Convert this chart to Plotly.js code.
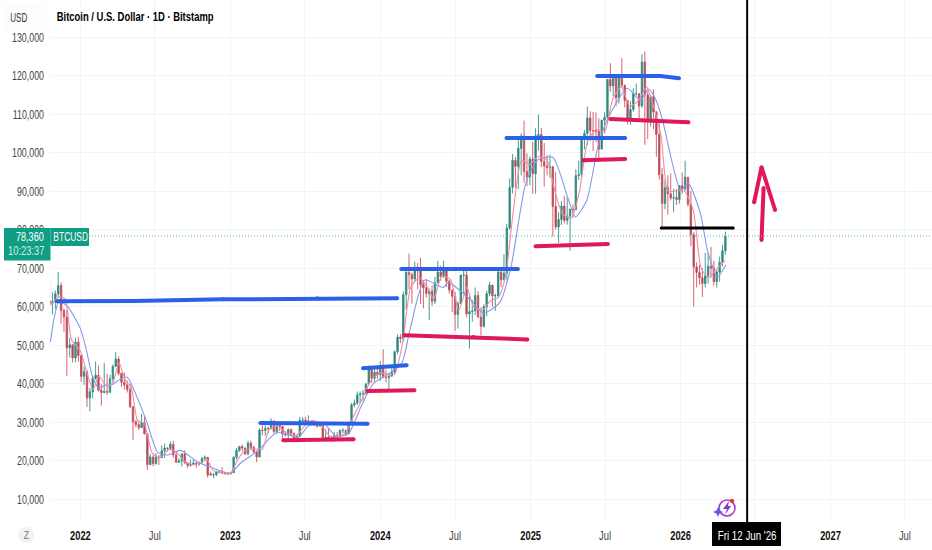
<!DOCTYPE html>
<html><head><meta charset="utf-8">
<script src="https://cdn.plot.ly/plotly-3.0.1.min.js"></script>
<style>html,body{margin:0;padding:0;background:#fff}#c{width:932px;height:550px}</style>
</head><body><div id="c"></div>
<script>
// weekly candles, in thousands of USD: date, open, high, low, close
const candles = `2021-10-18 61.5 67.0 59.5 60.9
2021-10-25 60.9 63.7 58.0 61.3
2021-11-01 61.3 64.2 59.4 63.3
2021-11-08 63.3 69.0 62.3 65.5
2021-11-15 65.5 66.3 55.6 59.0
2021-11-22 59.0 59.5 53.5 57.3
2021-11-29 57.3 59.2 42.0 49.3
2021-12-06 49.3 51.9 46.8 50.1
2021-12-13 50.1 50.2 45.5 46.7
2021-12-20 46.7 51.8 45.6 50.8
2021-12-27 50.8 52.1 45.7 47.3
2022-01-03 47.3 47.5 40.5 41.9
2022-01-10 41.9 44.4 39.7 43.1
2022-01-17 43.1 43.5 34.0 36.3
2022-01-24 36.3 38.9 32.9 37.9
2022-01-31 37.9 42.0 36.2 41.4
2022-02-07 41.4 45.8 41.0 42.2
2022-02-14 42.2 44.7 38.0 38.3
2022-02-21 38.3 40.0 34.3 37.7
2022-02-28 37.7 45.4 37.5 38.0
2022-03-07 38.0 42.6 37.1 37.8
2022-03-14 37.8 42.3 37.6 41.3
2022-03-21 41.3 45.0 40.5 44.5
2022-03-28 44.5 48.2 44.4 46.4
2022-04-04 46.4 47.1 42.1 42.7
2022-04-11 42.7 42.9 39.2 40.4
2022-04-18 40.4 42.9 38.5 39.7
2022-04-25 39.7 40.8 37.7 38.5
2022-05-02 38.5 40.0 33.7 34.0
2022-05-09 34.0 34.2 25.4 30.1
2022-05-16 30.1 30.6 28.7 29.4
2022-05-23 29.4 30.2 28.0 28.6
2022-05-30 28.6 32.2 28.6 29.9
2022-06-06 29.9 31.6 26.8 27.0
2022-06-13 27.0 27.0 17.6 19.0
2022-06-20 19.0 21.8 18.9 21.0
2022-06-27 21.0 21.5 18.6 19.3
2022-07-04 19.3 22.0 19.0 20.9
2022-07-11 20.9 21.5 18.9 20.8
2022-07-18 20.8 24.0 20.7 22.6
2022-07-25 22.6 24.5 20.7 23.3
2022-08-01 23.3 23.5 22.4 23.2
2022-08-08 23.2 25.0 22.7 24.3
2022-08-15 24.3 25.2 20.8 21.5
2022-08-22 21.5 22.0 19.5 19.6
2022-08-29 19.6 20.6 19.5 20.0
2022-09-05 20.0 21.8 18.5 21.8
2022-09-12 21.8 22.7 19.3 19.4
2022-09-19 19.4 19.7 18.1 18.8
2022-09-26 18.8 20.3 18.5 19.0
2022-10-03 19.0 20.4 19.0 19.4
2022-10-10 19.4 19.9 18.2 19.2
2022-10-17 19.2 19.7 18.7 19.6
2022-10-24 19.6 21.0 19.3 20.6
2022-10-31 20.6 21.4 20.1 20.9
2022-11-07 20.9 21.0 15.6 16.3
2022-11-14 16.6 17.2 16.2 16.3
2022-11-21 16.3 16.8 15.5 16.4
2022-11-28 16.4 17.4 16.0 17.1
2022-12-05 17.1 17.4 16.7 17.1
2022-12-12 17.1 18.4 16.6 16.8
2022-12-19 16.8 17.0 16.3 16.8
2022-12-26 16.8 16.9 16.3 16.6
2023-01-02 16.6 17.0 16.5 16.9
2023-01-09 16.9 21.2 16.9 20.9
2023-01-16 20.9 23.3 20.4 22.7
2023-01-23 22.7 23.8 22.3 23.7
2023-01-30 23.7 24.2 22.5 23.3
2023-02-06 23.3 23.4 21.4 21.8
2023-02-13 21.8 25.2 21.4 24.6
2023-02-20 24.6 25.2 22.8 23.5
2023-02-27 23.5 23.9 21.9 22.3
2023-03-06 22.3 22.6 19.6 21.0
2023-03-13 21.0 28.4 20.9 28.0
2023-03-20 28.0 29.2 26.6 27.9
2023-03-27 27.9 29.2 26.5 28.4
2023-04-03 28.4 28.9 27.2 28.3
2023-04-10 28.3 31.0 28.2 30.3
2023-04-17 30.3 30.5 27.1 27.6
2023-04-24 27.6 30.0 26.9 29.2
2023-05-01 29.2 29.7 27.7 28.9
2023-05-08 28.9 29.1 25.8 26.9
2023-05-15 26.9 27.7 26.3 26.7
2023-05-22 26.7 28.4 25.9 28.1
2023-05-29 28.1 28.4 26.5 27.1
2023-06-05 27.1 27.4 25.4 25.8
2023-06-12 25.8 26.8 24.8 26.3
2023-06-19 26.3 31.4 26.3 30.5
2023-06-26 30.5 31.3 29.5 30.6
2023-07-03 30.6 31.4 29.9 30.2
2023-07-10 30.2 31.8 30.0 30.3
2023-07-17 30.3 30.4 29.5 30.1
2023-07-24 30.1 30.3 29.0 29.3
2023-07-31 29.3 30.0 28.6 29.0
2023-08-07 29.0 30.2 28.9 29.3
2023-08-14 29.3 29.7 25.3 26.0
2023-08-21 26.0 28.2 25.4 26.1
2023-08-28 26.1 28.2 25.7 25.9
2023-09-04 25.9 26.4 24.9 25.9
2023-09-11 25.9 27.5 25.0 26.5
2023-09-18 26.5 27.5 26.0 26.3
2023-09-25 26.3 28.1 26.0 27.9
2023-10-02 27.9 28.5 27.2 27.9
2023-10-09 27.9 28.0 26.5 27.0
2023-10-16 27.0 30.2 26.9 29.9
2023-10-23 29.9 35.0 29.9 34.5
2023-10-30 34.5 35.9 33.9 35.0
2023-11-06 35.0 38.0 34.5 37.1
2023-11-13 37.1 38.0 35.0 37.4
2023-11-20 37.4 38.4 35.6 37.5
2023-11-27 37.5 40.2 37.1 39.9
2023-12-04 39.9 44.7 39.9 44.0
2023-12-11 44.0 44.0 40.2 41.4
2023-12-18 41.4 44.3 40.5 43.0
2023-12-25 43.0 43.8 41.3 42.3
2024-01-01 42.3 45.9 40.7 43.9
2024-01-08 43.9 49.0 41.5 41.7
2024-01-15 41.7 43.6 40.3 41.6
2024-01-22 41.6 42.9 38.5 42.0
2024-01-29 42.0 44.0 41.8 43.0
2024-02-05 43.0 48.6 42.3 48.3
2024-02-12 48.3 52.8 47.7 52.1
2024-02-19 52.1 52.9 50.5 51.7
2024-02-26 51.7 64.0 50.9 63.1
2024-03-04 63.1 70.1 59.2 68.9
2024-03-11 68.9 73.8 64.5 68.3
2024-03-18 68.3 68.9 60.8 67.2
2024-03-25 67.2 71.7 66.4 69.6
2024-04-01 69.6 71.3 64.5 69.3
2024-04-08 69.3 72.7 60.7 65.7
2024-04-15 65.7 66.9 59.6 64.9
2024-04-22 64.9 67.2 62.4 63.4
2024-04-29 63.4 64.7 56.5 64.0
2024-05-06 64.0 65.5 60.2 61.4
2024-05-13 61.4 67.7 60.7 66.2
2024-05-20 66.2 71.9 66.1 69.0
2024-05-27 69.0 70.6 66.7 67.7
2024-06-03 67.7 71.9 67.6 69.6
2024-06-10 69.6 70.2 65.1 66.6
2024-06-17 66.6 66.9 63.4 64.3
2024-06-24 64.3 64.4 58.6 62.7
2024-07-01 62.7 63.8 53.7 58.0
2024-07-08 58.0 61.4 54.3 60.8
2024-07-15 60.8 68.3 60.7 68.2
2024-07-22 68.2 69.4 63.5 68.2
2024-07-29 68.2 70.0 57.2 58.1
2024-08-05 58.1 62.7 49.1 58.7
2024-08-12 58.7 61.8 56.1 58.9
2024-08-19 58.9 65.0 57.8 62.9
2024-08-26 62.9 64.0 57.2 57.3
2024-09-02 57.3 59.8 52.6 54.9
2024-09-09 54.9 60.6 54.6 60.0
2024-09-16 60.0 64.1 57.5 63.4
2024-09-23 63.4 66.5 62.7 65.6
2024-09-30 65.6 65.6 60.0 62.8
2024-10-07 62.8 63.4 58.9 62.9
2024-10-14 62.9 69.4 62.5 69.0
2024-10-21 69.0 69.5 65.1 67.0
2024-10-28 67.0 73.6 66.8 68.7
2024-11-04 68.7 81.5 66.8 80.4
2024-11-11 80.4 93.3 79.9 91.0
2024-11-18 91.0 99.6 89.4 98.0
2024-11-25 98.0 98.9 90.8 96.4
2024-12-02 96.4 104.0 90.5 101.1
2024-12-09 101.1 105.0 94.1 104.3
2024-12-16 104.3 108.3 92.2 95.1
2024-12-23 95.1 99.8 91.3 93.7
2024-12-30 93.7 99.0 91.5 98.3
2025-01-06 98.3 102.7 89.3 94.5
2025-01-13 94.5 106.3 89.3 104.4
2025-01-20 104.4 109.9 100.5 104.7
2025-01-27 104.7 106.4 96.2 97.7
2025-02-03 97.7 102.5 91.2 96.5
2025-02-10 96.5 99.4 94.1 96.1
2025-02-17 96.1 99.5 93.4 96.3
2025-02-24 96.3 96.5 78.2 86.0
2025-03-03 86.0 95.0 80.0 80.7
2025-03-10 80.7 84.5 76.6 82.6
2025-03-17 82.6 87.4 81.2 86.1
2025-03-24 86.1 88.8 81.6 82.4
2025-03-31 82.4 88.5 81.3 83.5
2025-04-07 83.5 83.6 74.5 85.3
2025-04-14 85.3 86.5 83.1 85.2
2025-04-21 85.2 95.7 85.0 94.0
2025-04-28 94.0 97.9 92.9 94.3
2025-05-05 94.3 104.3 93.4 104.0
2025-05-12 104.0 105.8 100.8 105.0
2025-05-19 105.0 112.0 102.0 109.0
2025-05-26 109.0 110.7 103.0 105.7
2025-06-02 105.7 110.5 100.4 105.7
2025-06-09 105.7 110.4 102.7 105.5
2025-06-16 105.5 108.9 98.2 100.9
2025-06-23 100.9 108.5 100.8 108.4
2025-06-30 108.4 110.5 105.0 109.2
2025-07-07 109.2 119.0 107.5 119.0
2025-07-14 119.0 123.2 115.8 117.3
2025-07-21 117.3 120.2 114.7 119.4
2025-07-28 119.4 119.8 112.0 114.2
2025-08-04 114.2 119.3 112.7 119.3
2025-08-11 119.3 124.5 116.8 117.5
2025-08-18 117.5 117.6 111.7 113.5
2025-08-25 113.5 113.5 107.3 108.2
2025-09-01 108.2 113.4 107.2 111.2
2025-09-08 111.2 116.7 110.6 115.3
2025-09-15 115.3 117.9 114.8 115.3
2025-09-22 115.3 115.4 108.6 112.1
2025-09-29 112.1 125.5 111.6 123.5
2025-10-06 123.5 126.2 102.0 115.0
2025-10-13 115.0 115.9 103.5 108.6
2025-10-20 108.6 115.0 106.7 114.5
2025-10-27 114.5 116.4 106.1 110.5
2025-11-03 110.5 110.8 98.9 104.7
2025-11-10 104.7 107.5 93.0 94.3
2025-11-17 94.3 96.0 80.6 86.8
2025-11-24 86.8 93.0 85.3 90.9
2025-12-01 90.9 94.1 83.9 89.3
2025-12-08 89.3 94.6 87.6 88.2
2025-12-15 88.2 90.6 84.5 88.3
2025-12-22 88.3 90.5 86.4 87.8
2025-12-29 87.8 91.6 86.7 91.4
2026-01-05 91.4 94.8 89.3 90.6
2026-01-12 90.6 97.9 90.0 93.6
2026-01-19 93.6 93.7 86.0 86.6
2026-01-26 86.6 90.0 75.7 78.7
2026-02-02 78.7 79.3 60.0 70.3
2026-02-09 70.3 71.5 65.0 68.9
2026-02-16 68.9 70.9 65.7 67.5
2026-02-23 67.5 70.0 62.5 66.0
2026-03-02 66.0 74.0 65.0 68.0
2026-03-09 68.0 74.0 66.0 70.5
2026-03-16 70.5 75.5 67.5 70.0
2026-03-23 70.0 72.0 65.5 66.5
2026-03-30 66.5 69.5 65.0 69.0
2026-04-06 69.0 73.0 66.5 71.5
2026-04-13 71.5 76.0 70.5 74.5
2026-04-20 74.5 79.5 73.5 78.36`;
const rows = candles.split('\n').map(r => r.split(' '));
const dates = rows.map(r => r[0]);
const opens = rows.map(r => +r[1] * 1000);
const highs = rows.map(r => +r[2] * 1000);
const lows = rows.map(r => +r[3] * 1000);
const closes = rows.map(r => +r[4] * 1000);

const fastMA = [['2021-10-20',60500],['2021-11-10',62500],['2021-11-25',62000],['2021-12-10',51500],['2022-01-01',48500],['2022-01-15',43500],['2022-02-01',38500],['2022-02-15',42000],['2022-03-05',39500],['2022-03-20',40000],['2022-04-05',45500],['2022-04-20',41000],['2022-05-05',39000],['2022-05-20',30500],['2022-06-05',29800],['2022-06-25',22000],['2022-07-15',20800],['2022-08-05',23000],['2022-08-25',22000],['2022-09-10',20000],['2022-09-30',19000],['2022-10-20',19400],['2022-11-05',20300],['2022-11-20',17500],['2022-12-10',17000],['2023-01-01',16700],['2023-01-20',20500],['2023-02-10',23000],['2023-03-05',23000],['2023-03-20',23000],['2023-04-05',28000],['2023-04-25',29000],['2023-05-15',27500],['2023-06-10',26500],['2023-06-30',29000],['2023-07-20',30500],['2023-08-10',29300],['2023-08-30',26500],['2023-09-20',26200],['2023-10-10',27500],['2023-10-30',32000],['2023-11-20',36500],['2023-12-10',41000],['2024-01-01',42800],['2024-01-20',42500],['2024-02-05',42500],['2024-02-25',51000],['2024-03-15',65000],['2024-04-05',67500],['2024-04-25',65000],['2024-05-10',62000],['2024-05-30',68000],['2024-06-20',67000],['2024-07-10',59000],['2024-07-30',65000],['2024-08-15',60000],['2024-09-05',59000],['2024-09-25',61500],['2024-10-15',62500],['2024-11-01',68000],['2024-11-20',85000],['2024-12-10',98000],['2024-12-30',97000],['2025-01-20',99000],['2025-02-10',98000],['2025-03-01',90000],['2025-03-20',84000],['2025-04-10',83000],['2025-04-30',90000],['2025-05-20',103000],['2025-06-10',106000],['2025-06-30',105500],['2025-07-20',114000],['2025-08-10',117000],['2025-08-30',112000],['2025-09-20',113500],['2025-10-10',117000],['2025-10-30',111000],['2025-11-15',104000],['2025-12-01',90000],['2025-12-20',90000],['2026-01-10',90000],['2026-02-01',85000],['2026-02-20',70000],['2026-03-10',67500],['2026-04-01',70000],['2026-04-20',72000]];
const slowMA = [['2021-10-20',50800],['2021-10-29',57000],['2021-11-10',61500],['2021-12-01',60000],['2022-01-01',54300],['2022-01-15',49000],['2022-01-30',42000],['2022-02-15',38800],['2022-03-01',39500],['2022-03-20',39800],['2022-04-05',41000],['2022-04-25',41700],['2022-05-20',36200],['2022-06-12',30000],['2022-07-08',22200],['2022-08-01',21500],['2022-09-01',22700],['2022-10-15',19600],['2022-11-15',18300],['2023-01-01',16800],['2023-01-25',19300],['2023-03-10',22700],['2023-04-25',27400],['2023-06-15',26100],['2023-07-10',29000],['2023-08-15',29800],['2023-09-15',26400],['2023-10-15',27000],['2023-11-15',34000],['2023-12-15',40000],['2024-01-20',42500],['2024-02-22',45300],['2024-03-13',53900],['2024-04-18',66900],['2024-06-02',65000],['2024-06-15',66300],['2024-08-08',61700],['2024-09-08',58300],['2024-10-18',61100],['2024-11-14',70200],['2024-12-20',92000],['2025-01-17',98000],['2025-02-24',98800],['2025-04-01',88400],['2025-04-20',83300],['2025-05-18',87700],['2025-06-12',100700],['2025-07-06',108400],['2025-08-24',116700],['2025-09-25',113600],['2025-10-15',116500],['2025-11-01',113900],['2025-11-18',108400],['2025-12-12',97200],['2026-01-01',90200],['2026-01-20',92000],['2026-02-18',84300],['2026-03-09',73900],['2026-04-01',67700],['2026-04-21',70800]];

// hand-drawn overlay strokes
const blueStrokes = [
  [['2021-11-05',61400],['2022-05-10',61500],['2022-12-15',61900],['2023-08-01',62200],['2024-02-11',62200]],
  [['2023-03-15',29800],['2023-12-01',29600]],
  [['2023-11-20',44000],['2024-03-05',44800]],
  [['2024-02-21',69800],['2024-12-01',69800]],
  [['2024-11-03',103800],['2025-08-19',103800]],
  [['2025-06-12',119900],['2025-11-13',119900],['2025-12-28',119300]]
];
const redStrokes = [
  [['2023-05-10',25300],['2023-10-28',25600]],
  [['2023-12-01',38100],['2024-03-24',38300]],
  [['2024-02-28',52600],['2024-08-15',52100],['2024-12-24',51500]],
  [['2025-01-13',75700],['2025-07-08',76300]],
  [['2025-05-09',98000],['2025-08-19',98300]],
  [['2025-07-14',108700],['2026-01-20',107900]],
  [['2026-07-17',77300],['2026-07-22',90800]],
  [['2026-06-29',87100],['2026-07-17',96200],['2026-08-19',85100]]
];
const blackStrokes = [[['2025-11-15',80400],['2026-05-09',80400]]];
const priceTicks = [10000,20000,30000,40000,50000,60000,70000,80000,90000,100000,110000,120000,130000];
const timeTicks = ['2022-01-01','2022-07-01','2023-01-01','2023-07-01','2024-01-01','2024-07-01','2025-01-01','2025-07-01','2026-01-01','2026-07-01','2027-01-01','2027-07-01'];
const timeLabels = ['2022','Jul','2023','Jul','2024','Jul','2025','Jul','2026','','2027','Jul'];
const lastPrice = 78360;
const markerDate = '2026-06-12';

const W = 932, H = 550, L = 50, B = 27, PH = H - B, PW = W - L;
const FONT = '"Liberation Sans",Arial,sans-serif';
const px = x => (x - L) / PW;
const py = y => 1 - y / PH;
const stroke = (pts, color, w) => ({
  type:'scatter', mode:'lines+markers', x:pts.map(p => p[0]), y:pts.map(p => p[1]),
  line:{color, width:w}, marker:{color, size:w}, hoverinfo:'skip', showlegend:false
});
const ma = (pts, color) => ({
  type:'scatter', mode:'lines', x:pts.map(p => p[0]), y:pts.map(p => p[1]),
  line:{color, width:1.1, shape:'spline', smoothing:0.6}, hoverinfo:'skip', showlegend:false
});
const traces = [
  {type:'candlestick', x:dates, open:opens, high:highs, low:lows, close:closes, whiskerwidth:0, width:4.2*86400000,
   increasing:{line:{color:'#2f9384', width:0.9}, fillcolor:'#44756c'},
   decreasing:{line:{color:'#d0515f', width:0.9}, fillcolor:'#7e4c55'}, showlegend:false},
  ma(slowMA, '#8498ee'),
  ma(fastMA, '#ee8fa5'),
  ...blueStrokes.map(s => stroke(s, '#2962e8', 4)),
  ...redStrokes.map(s => stroke(s, '#e0195a', 4)),
  ...blackStrokes.map(s => stroke(s, '#000000', 3))
];
const rect = (x0,y0,x1,y1,fill) => ({type:'rect', xref:'paper', yref:'paper', x0:px(x0), x1:px(x1), y0:py(y0), y1:py(y1), fillcolor:fill, line:{width:0}, layer:'above'});
const circ = (cx,cy,r,fill,lc,lw) => ({type:'circle', xref:'paper', yref:'paper', x0:px(cx-r), x1:px(cx+r), y0:py(cy+r), y1:py(cy-r), fillcolor:fill, line:{color:lc, width:lw}, layer:'above'});
const label = (x,y,text,size,color,weight) => ({xref:'paper', yref:'paper', x:px(x), y:py(y), text, showarrow:false, xanchor:'center', yanchor:'middle', font:{family:FONT, size, color, weight:weight||400}, borderpad:0});
const layout = {
  width:W, height:H, margin:{l:L, r:0, t:0, b:B, pad:0}, paper_bgcolor:'#fff', plot_bgcolor:'#fff', showlegend:false,
  font:{family:FONT},
  xaxis:{type:'date', range:['2021-10-19','2027-09-05'], tickmode:'array', tickvals:timeTicks,
    ticktext:timeLabels.map(t => /^\d/.test(t) ? `<b style="color:#111">${t}</b>` : t),
    tickfont:{family:FONT, size:13, color:'#444'}, ticklen:0, showline:false, zeroline:false,
    gridcolor:'#f4f4f4', gridwidth:1, rangeslider:{visible:false}, ticklabelstandoff:3},
  yaxis:{range:[3848,139604], tickmode:'array', tickvals:priceTicks, tickformat:',',
    tickfont:{family:FONT, size:13, color:'#444'}, ticklen:0, showline:false, zeroline:false,
    gridcolor:'#f4f4f4', gridwidth:1, ticklabelstandoff:5},
  shapes:[
    {type:'line', xref:'paper', yref:'y', x0:0, x1:1, y0:lastPrice, y1:lastPrice, line:{color:'#4fb8a4', width:1, dash:'1px,2px'}},
    {type:'line', xref:'x', yref:'paper', x0:markerDate, x1:markerDate, y0:0, y1:1, line:{color:'#000', width:2}, layer:'above'},
    rect(0,0,50,32,'#ffffff'),
    rect(4,3,46,31,'#fdfdfd'),
    rect(4,228,50.5,260.5,'#0f9d83'),
    rect(50.5,228,89,246,'#0f9d83'),
    rect(712,522,781,546,'#000000'),
    circ(26,535,8,'#f2f2f2','#f2f2f2',0),
    circ(727,508,8,'rgba(0,0,0,0)','#a63fc4',1.6),
    {type:'path', xref:'paper', yref:'paper', layer:'above', fillcolor:'#8a35c8', line:{width:0},
     path:`M${px(729)},${py(501)} L${px(723)},${py(509)} L${px(727)},${py(509)} L${px(725)},${py(515)} L${px(731)},${py(506)} L${px(728)},${py(506)} Z`},
    circ(732,501,2.2,'#ee3344','#ee3344',0),
    {type:'path', xref:'paper', yref:'paper', layer:'above', fillcolor:'#5a5ae8', line:{width:0},
     path:`M${px(718)},${py(507)} L${px(719.5)},${py(510.5)} L${px(723)},${py(512)} L${px(719.5)},${py(513.5)} L${px(718)},${py(517)} L${px(716.5)},${py(513.5)} L${px(713)},${py(512)} L${px(716.5)},${py(510.5)} Z`}
  ],
  annotations:[
    label(18,17,'USD',13,'#333'),
    label(134.5,16.5,'Bitcoin / U.S. Dollar · 1D · Bitstamp',13.5,'#000',600),
    label(30,237,lastPrice.toLocaleString('en-US'),13,'#ffffff'),
    label(26,251,'10:23:37',13,'#cfeee7'),
    label(70,237,'BTCUSD',13,'#ffffff'),
    label(746.5,535,"Fri 12 Jun '26",13,'#ffffff'),
    label(26,535,'Z',11,'#777')
  ]
};
// The reference lettering is a narrow face with no installed match: squeeze each real text horizontally about its anchor.
const squeeze = (el, s) => {
  const x = el.getAttribute('x') || 0, old = el.getAttribute('transform') || '';
  el.setAttribute('transform', `${old} translate(${x},0) scale(${s},1) translate(${-x},0)`);
};
const annotationScale = [0.62, 0.7, 0.7, 0.72, 0.65, 0.75, 0.8];
Plotly.newPlot('c', traces, layout, {displayModeBar:false, staticPlot:true}).then(gd => {
  gd.querySelectorAll('.xtick text').forEach(t => squeeze(t, 0.72));
  gd.querySelectorAll('.ytick text').forEach(t => squeeze(t, 0.68));
  gd.querySelectorAll('.annotation-text').forEach((t, i) => squeeze(t, annotationScale[i]));
});
</script></body></html>
